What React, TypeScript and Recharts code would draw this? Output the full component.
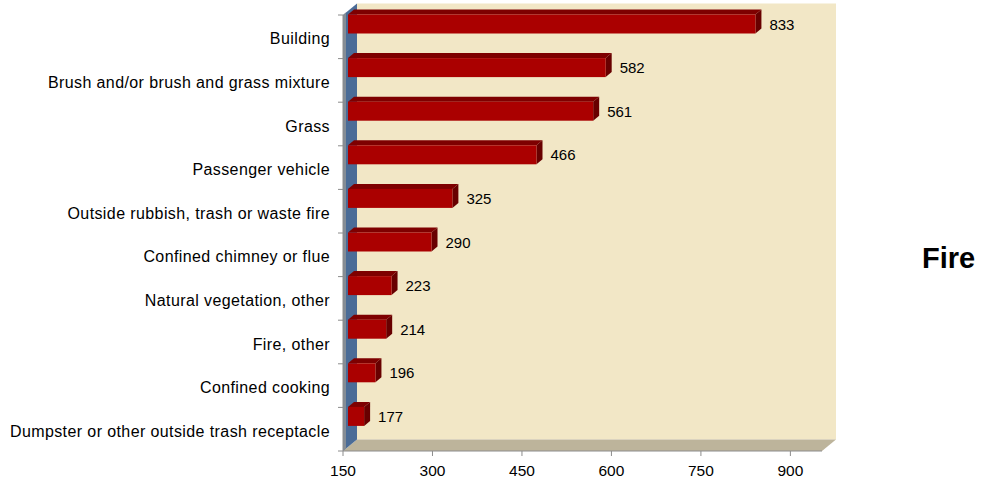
import React from "react";
import { BarChart, Bar, XAxis, YAxis, ReferenceArea } from "recharts";

const categories = [
  "Building",
  "Brush and/or brush and grass mixture",
  "Grass",
  "Passenger vehicle",
  "Outside rubbish, trash or waste fire",
  "Confined chimney or flue",
  "Natural vegetation, other",
  "Fire, other",
  "Confined cooking",
  "Dumpster or other outside trash receptacle",
];
const fireCounts = [833, 582, 561, 466, 325, 290, 223, 214, 196, 177];
const xTicks = [150, 300, 450, 600, 750, 900];

const data = categories.map((name, i) => ({ name, fire: fireCounts[i] }));

const FONT = "'Liberation Sans', Arial, sans-serif";
// depth of the 3d box and of each bar
const DX = 14;
const DY = -11.5;
const BDX = 6;
const BDY = -5;

// back wall, left wall and floor of the 3d plot box
const Box = (props: any) => {
  const { x, y, width, height } = props;
  const n = categories.length;
  const band = height / n;
  const r = x + width;
  const b = y + height;
  const ticks = [];
  for (let i = 0; i <= n; i++) {
    const ty = y + band * i;
    ticks.push(<line key={i} x1={x - 5} x2={x} y1={ty} y2={ty} stroke="#8c8c8c" />);
  }
  return (
    <g>
      <rect x={x + DX} y={y + DY} width={width} height={height} fill="#f2e7c6" />
      <polygon
        points={`${x},${b} ${x + DX},${b + DY} ${r + DX},${b + DY} ${r},${b}`}
        fill="#bdb49b"
      />
      <polygon
        points={`${x},${y} ${x + DX},${y + DY} ${x + DX},${b + DY} ${x},${b}`}
        fill="#4b6c97"
      />
      <polygon
        points={`${x},${y} ${x + 3},${y - 2.5} ${x + 3},${b - 2.5} ${x},${b}`}
        fill="#858d96"
      />
      <line x1={x} x2={x} y1={y} y2={b} stroke="#8c8c8c" />
      {ticks}
    </g>
  );
};

const Bar3D = (props: any) => {
  const { x, y, width, height, value } = props;
  const fx = x + 5;
  const fy = y - 12.5;
  const w = width;
  const h = height;
  return (
    <g>
      <polygon
        points={`${fx},${fy} ${fx + BDX},${fy + BDY} ${fx + w + BDX},${fy + BDY} ${fx + w},${fy}`}
        fill="#7e0000"
      />
      <polygon
        points={`${fx + w},${fy} ${fx + w + BDX},${fy + BDY} ${fx + w + BDX},${fy + h + BDY} ${fx + w},${fy + h}`}
        fill="#680000"
      />
      <rect x={fx} y={fy} width={w} height={h} fill="#aa0000" />
      <text
        x={fx + w + BDX + 8}
        y={fy + h / 2}
        dominantBaseline="central"
        fontSize={15}
        fontFamily={FONT}
        fill="#000"
      >
        {value}
      </text>
    </g>
  );
};

export default function App() {
  return (
    <div style={{ position: "absolute", left: 0, top: 0, width: 981, height: 484, background: "#fff" }}>
      <BarChart
        width={981}
        height={484}
        data={data}
        layout="vertical"
        margin={{ top: 15, right: 159, bottom: 3, left: 0 }}
      >
        <ReferenceArea x1={150} x2={953} shape={Box} zIndex={-500} ifOverflow="visible" />
        <XAxis
          type="number"
          domain={[150, 953]}
          ticks={xTicks}
          height={30}
          tickSize={5}
          tickMargin={9}
          tick={{ fontSize: 15.5, fill: "#000", fontFamily: FONT }}
          axisLine={{ stroke: "#8c8c8c" }}
          tickLine={{ stroke: "#8c8c8c" }}
        />
        <YAxis
          type="category"
          dataKey="name"
          width={343}
          tickSize={5}
          tickMargin={8}
          axisLine={false}
          tickLine={false}
          interval={0}
          tick={{ fontSize: 16, fill: "#000", fontFamily: FONT, letterSpacing: 0.4, dy: 2 }}
        />
        <Bar dataKey="fire" barSize={19} shape={Bar3D} isAnimationActive={false} />
        <text x={922} y={258} dominantBaseline="central" fontSize={29} fontWeight="bold" fontFamily={FONT} fill="#000">
          Fire
        </text>
      </BarChart>
    </div>
  );
}
